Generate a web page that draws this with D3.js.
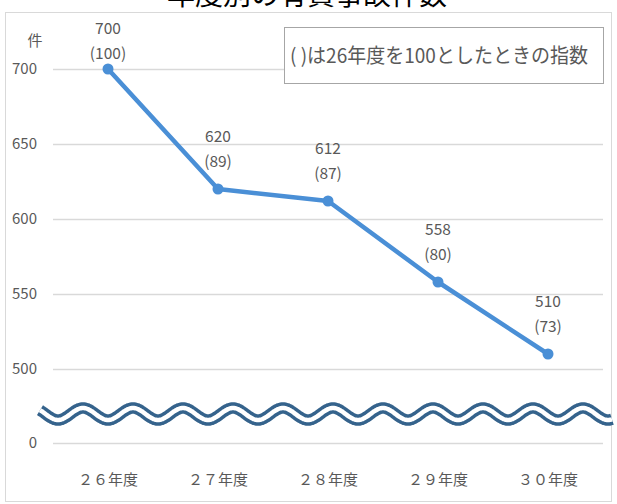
<!DOCTYPE html>
<html><head><meta charset="utf-8">
<script src="https://cdn.jsdelivr.net/npm/d3@7"></script>
<style>
html,body{margin:0;padding:0;background:#fff;}
svg{display:block;}
</style></head>
<body>
<svg id="chart" width="617" height="504"></svg>
<script>
const categories = ["２６年度","２７年度","２８年度","２９年度","３０年度"];
const values = [700, 620, 612, 558, 510];
const indexValues = [100, 89, 87, 80, 73];
const yTicks = [0, 500, 550, 600, 650, 700];
const titleText = "年度別の有責事故件数";
const unitLabel = "件";
const noteText = "( )は26年度を100としたときの指数";

const W = 617, H = 504;
const svg = d3.select("#chart");
const narrow = "'Liberation Sans Narrow','Noto Sans CJK JP',sans-serif";
const cjk = "'Noto Sans CJK JP',sans-serif";
const textCol = "#595959";
const lineCol = "#4a8fd6";

// frame
svg.append("rect").attr("x",5.5).attr("y",12.5).attr("width",606).attr("height",489)
  .attr("fill","#fff").attr("stroke","#d9d9d9");

// title (partly clipped at top, as in the reference)
svg.append("text").attr("x",307).attr("y",5).attr("text-anchor","middle")
  .attr("font-family",cjk).attr("font-size",28).attr("fill","#000").text(titleText);

const x = d3.scaleBand().domain(categories).range([53, 603]);
const y = d3.scaleLinear().domain([0, 500, 700]).range([443, 369, 69]);

// y axis + gridlines
const ya = svg.append("g").attr("transform","translate(53,0)")
  .call(d3.axisLeft(y).tickValues(yTicks).tickSizeInner(-550).tickSizeOuter(0).tickPadding(16));
ya.select(".domain").remove();
ya.selectAll(".tick line").attr("stroke","#d9d9d9").attr("stroke-width",1.3);
ya.selectAll(".tick text").attr("font-family",narrow).attr("font-size",15).attr("fill",textCol);

// x axis labels
const xa = svg.append("g").attr("transform",`translate(0,${y(0)})`)
  .call(d3.axisBottom(x).tickSize(0).tickPadding(31));
xa.select(".domain").remove();
xa.selectAll(".tick text").attr("font-family",cjk).attr("font-size",15).attr("fill",textCol);

// unit label
svg.append("text").attr("x",35).attr("y",41).attr("dy","0.35em").attr("text-anchor","middle")
  .attr("font-family",cjk).attr("font-size",15).attr("fill",textCol).text(unitLabel);

// axis break wave
const breakY = (y(0) + y(500)) / 2 + 8;
const wavePts = d3.range(40, 612.5, 1).map(px => [px, breakY - 6 * Math.cos(2 * Math.PI * (px - 83) / 50)]);
const waveLine = d3.line().curve(d3.curveBasis);
svg.append("path").attr("d", waveLine(wavePts)).attr("fill","none")
  .attr("stroke","#35638c").attr("stroke-width",11.5);
svg.append("path").attr("d", waveLine(wavePts)).attr("fill","none")
  .attr("stroke","#fff").attr("stroke-width",4.5);

// note box
const note = svg.append("g");
note.append("rect").attr("x",284.5).attr("y",27.5).attr("width",319).attr("height",56)
  .attr("fill","#fff").attr("stroke","#a6a6a6").attr("stroke-width",1);
note.append("text").attr("x",290).attr("y",56).attr("dy","0.35em")
  .attr("font-family",narrow).attr("font-size",20).attr("fill",textCol)
  .attr("textLength",298).attr("lengthAdjust","spacingAndGlyphs").text(noteText);

// line
const data = categories.map((c,i) => ({c, v: values[i], idx: indexValues[i]}));
const cx = d => x(d.c) + x.bandwidth() / 2;
svg.append("path").datum(data)
  .attr("d", d3.line().x(cx).y(d => y(d.v)))
  .attr("fill","none").attr("stroke",lineCol).attr("stroke-width",4.5).attr("stroke-linejoin","round");
svg.selectAll("circle.pt").data(data).join("circle").attr("class","pt")
  .attr("cx",cx).attr("cy",d => y(d.v)).attr("r",5.5).attr("fill",lineCol);

// data labels
const lbl = svg.selectAll("g.lbl").data(data).join("g").attr("class","lbl");
lbl.append("text").attr("x",cx).attr("y",d => Math.max(y(d.v) - 52, 29)).attr("dy","0.35em")
  .attr("text-anchor","middle").attr("font-family",narrow).attr("font-size",15.5).attr("fill",textCol)
  .text(d => d.v);
lbl.append("text").attr("x",cx).attr("y",d => Math.max(y(d.v) - 52, 29) + 25).attr("dy","0.35em")
  .attr("text-anchor","middle").attr("font-family",narrow).attr("font-size",15.5).attr("fill",textCol)
  .text(d => `(${d.idx})`);
</script>
</body></html>
